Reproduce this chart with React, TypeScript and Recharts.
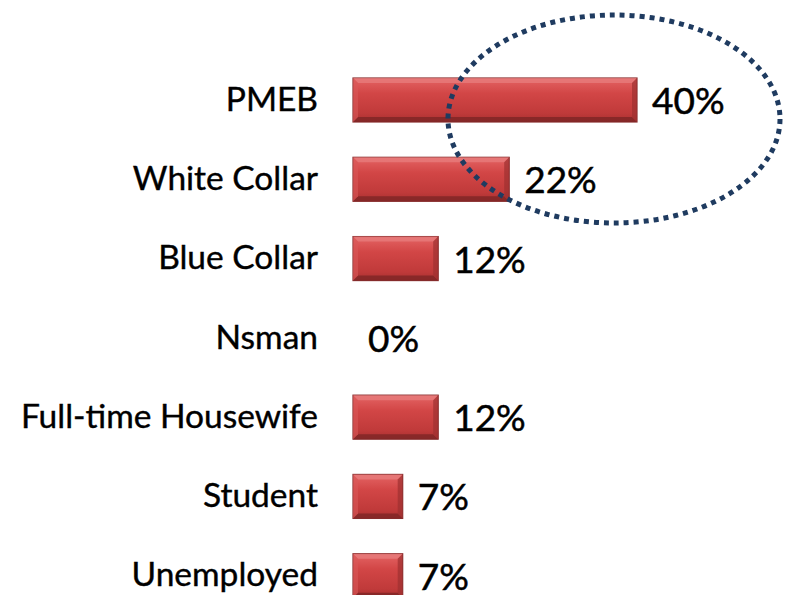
import React from "react";
import { BarChart, Bar, XAxis, YAxis, LabelList } from "recharts";

const categories = ["PMEB", "White Collar", "Blue Collar", "Nsman", "Full-time Housewife", "Student", "Unemployed"];
const values = [40, 22, 12, 0, 12, 7, 7];

const data = categories.map((c, i) => ({ name: c, value: values[i] }));

const FONT = "Lato, 'Open Sans', sans-serif";

const CatTick = (props: any) => {
  const { x, y, payload } = props;
  return (
    <text x={x - 27} y={y} dy={11} textAnchor="end" fontFamily={FONT} fontSize={33.5} fill="#000" stroke="#000" strokeWidth={0.4}>
      {payload.value}
    </text>
  );
};

const PctLabel = (props: any) => {
  const { x, y, width, height, value } = props;
  return (
    <text x={x + width + 15} y={y + height / 2} dy={14} textAnchor="start" fontFamily={FONT} fontSize={37} fill="#000" stroke="#000" strokeWidth={0.5}>
      {value}%
    </text>
  );
};

const BevelBar = (props: any) => {
  const { x, y, width, height } = props;
  if (!width || width <= 0) return null;
  const b = 5;
  return (
    <g>
      <rect x={x} y={y} width={width} height={height} fill="url(#barGrad)" stroke="#8A3030" strokeWidth={1.2} />
      <polygon points={`${x},${y} ${x + width},${y} ${x + width - b},${y + b} ${x + b},${y + b}`} fill="#E88080" opacity={0.7} />
      <polygon points={`${x},${y + height} ${x + width},${y + height} ${x + width - b},${y + height - b} ${x + b},${y + height - b}`} fill="#7E2626" opacity={0.8} />
      <polygon points={`${x + width},${y} ${x + width},${y + height} ${x + width - b},${y + height - b} ${x + width - b},${y + b}`} fill="#9E3030" opacity={0.7} />
      <polygon points={`${x},${y} ${x},${y + height} ${x + b},${y + height - b} ${x + b},${y + b}`} fill="#D85858" opacity={0.6} />
    </g>
  );
};

export default function App() {
  return (
    <div style={{ position: "absolute", left: 0, top: 0, width: 785, height: 595, overflow: "hidden", background: "#fff" }}>
      <BarChart
        width={785}
        height={620}
        data={data}
        layout="vertical"
        margin={{ top: 60, right: 6, bottom: 5, left: 0 }}
        barSize={44}
      >
        <defs>
          <linearGradient id="barGrad" x1="0" y1="0" x2="0" y2="1">
            <stop offset="0%" stopColor="#E46464" />
            <stop offset="35%" stopColor="#D24646" />
            <stop offset="80%" stopColor="#C03A3A" />
            <stop offset="100%" stopColor="#A83030" />
          </linearGradient>
        </defs>
        <XAxis type="number" domain={[0, 60]} hide />
        <YAxis type="category" dataKey="name" width={353} axisLine={false} tickLine={false} tick={<CatTick />} interval={0} />
        <Bar dataKey="value" shape={<BevelBar />} isAnimationActive={false}>
          <LabelList dataKey="value" content={<PctLabel />} />
        </Bar>
      </BarChart>
      <svg width={785} height={595} style={{ position: "absolute", left: 0, top: 0, pointerEvents: "none" }}>
        <ellipse cx={614} cy={119} rx={166} ry={104} fill="none" stroke="#1F3B60" strokeWidth={5} strokeDasharray="5 5" />
      </svg>
    </div>
  );
}
